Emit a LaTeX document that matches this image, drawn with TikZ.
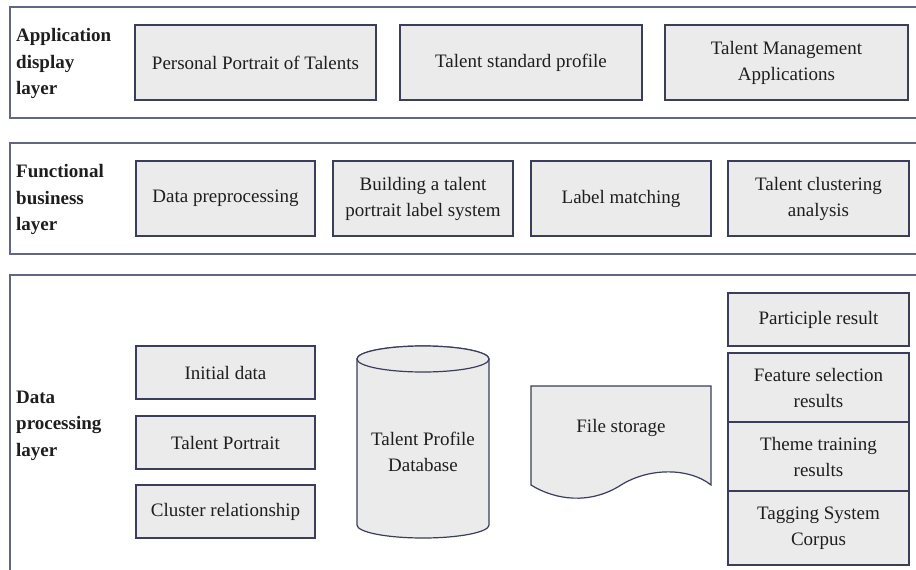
\documentclass[tikz,border=0pt]{standalone}
\usepackage{fontspec}
\setmainfont{Liberation Serif}
\definecolor{layerline}{RGB}{98,102,128}
\definecolor{boxline}{RGB}{58,62,90}
\definecolor{boxfill}{RGB}{235,235,235}
\definecolor{textc}{RGB}{30,30,30}
\begin{document}
\begin{tikzpicture}[x=1pt,y=-1pt,
  layer/.style={draw=layerline, line width=1.6pt},
  box/.style={draw=boxline, fill=boxfill, line width=1.2pt, align=center,
    font=\fontsize{19}{26}\selectfont, text=textc, inner sep=0pt},
  shapeline/.style={draw=boxline, fill=boxfill, line width=1.2pt},
  plain/.style={align=center, font=\fontsize{19}{26}\selectfont, text=textc, inner sep=0pt},
  lbl/.style={anchor=west, align=left, font=\fontsize{19}{26.5}\selectfont\bfseries,
    text=textc, inner sep=0pt}]
\useasboundingbox (0,0) rectangle (916,570);
\clip (0,0) rectangle (916,570);
\fill[white] (0,0) rectangle (916,570);

% layer frames (open to the right / bottom edge)
\draw[layer] (10,7) rectangle (940,118);
\draw[layer] (10,143) rectangle (940,254);
\draw[layer] (10,275) rectangle (940,600);

% layer titles
\node[lbl] (lapp) at (16,63.5) {Application\\display\\layer};
\node[lbl] (lfun) at (16,199.5) {Functional\\business\\layer};
\node[lbl] (ldat) at (16,425.5) {Data\\processing\\layer};

% application display layer
\node[box, minimum width=241pt, minimum height=75pt] (a1) at (255.5,62.5) {Personal Portrait of Talents};
\node[box, minimum width=242pt, minimum height=75pt] (a2) at (521,62.5) {Talent standard profile};
\node[box, minimum width=243pt, minimum height=75pt] (a3) at (786.5,62.5) {Talent Management\\Applications};

% functional business layer
\node[box, minimum width=179pt, minimum height=75pt] (f1) at (225.5,198.5) {Data preprocessing};
\node[box, minimum width=180pt, minimum height=75pt] (f2) at (423,198.5) {Building a talent\\portrait label system};
\node[box, minimum width=180pt, minimum height=75pt] (f3) at (621,198.5) {Label matching};
\node[box, minimum width=181pt, minimum height=75pt] (f4) at (818.5,198.5) {Talent clustering\\analysis};

% data processing layer: data items
\node[box, minimum width=179pt, minimum height=53pt] (d1) at (225.5,372.5) {Initial data};
\node[box, minimum width=179pt, minimum height=53pt] (d2) at (225.5,442.5) {Talent Portrait};
\node[box, minimum width=179pt, minimum height=53pt] (d3) at (225.5,511.5) {Cluster relationship};

% database cylinder
\path[shapeline] (357,359) -- (357,525)
  arc[start angle=180, end angle=360, x radius=66pt, y radius=13pt]
  -- (489,359)
  arc[start angle=0, end angle=180, x radius=66pt, y radius=13pt] -- cycle;
\draw[shapeline] (423,359) ellipse[x radius=66pt, y radius=13pt];
\node[plain] (db) at (423,452) {Talent Profile\\Database};

% file storage (document shape)
\path[shapeline] (531,386) -- (711,386) -- (711,485)
  .. controls (690,468) and (650,467) .. (621,485)
  .. controls (590,505) and (555,500) .. (531,485) -- cycle;
\node[plain] (fs) at (621,428) {File storage};

% result stack
\node[box, minimum width=181pt, minimum height=53pt] (r1) at (818.5,319.5) {Participle result};
\node[box, minimum width=181pt, minimum height=69pt] (r2) at (818.5,387.5) {Feature selection\\results};
\node[box, minimum width=181pt, minimum height=69pt] (r3) at (818.5,456.5) {Theme training\\results};
\node[box, minimum width=181pt, minimum height=74pt] (r4) at (818.5,528) {Tagging System\\Corpus};
\end{tikzpicture}
\end{document}
